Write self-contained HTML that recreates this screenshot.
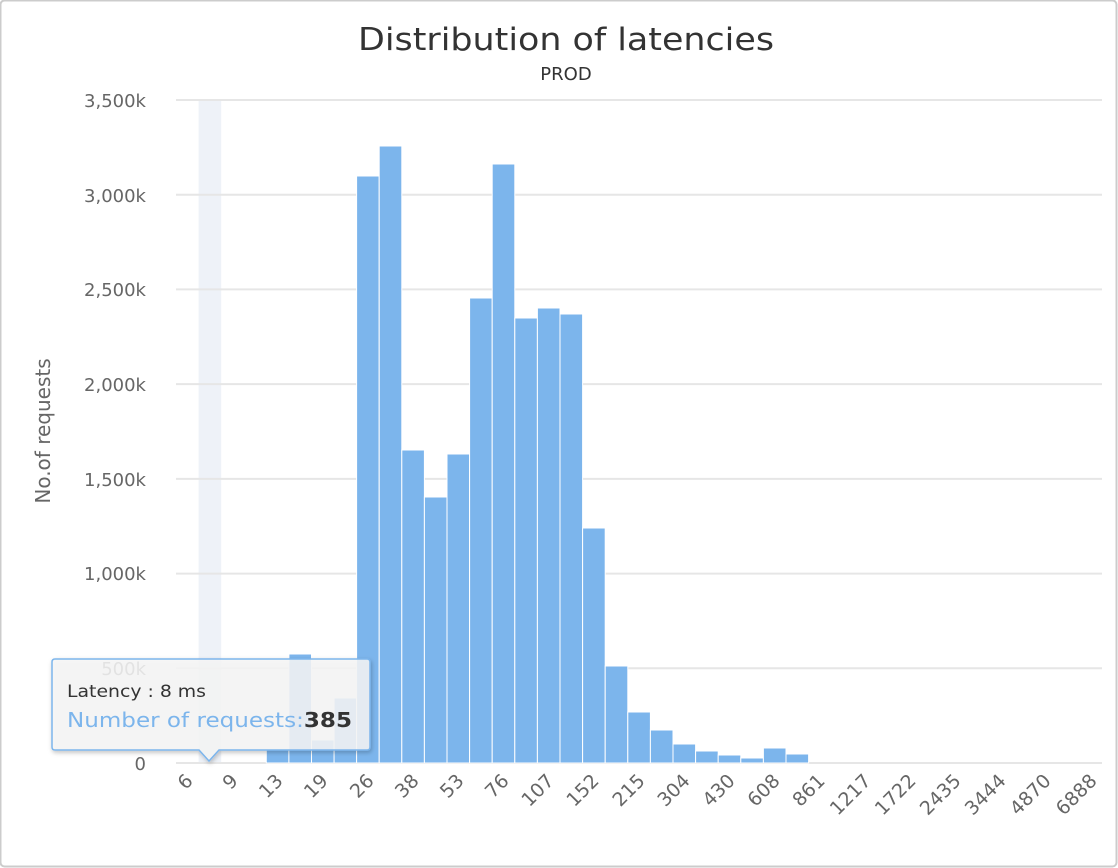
<!DOCTYPE html>
<html><head><meta charset="utf-8"><style>
html,body{margin:0;padding:0;background:#fff;}
svg{display:block;font-family:"DejaVu Sans","Liberation Sans",sans-serif;}
</style></head><body>
<svg width="1118" height="868" viewBox="0 0 1118 868" xmlns="http://www.w3.org/2000/svg">
<defs>
<filter id="sh" x="-10%" y="-10%" width="130%" height="140%"><feDropShadow dx="1" dy="2" stdDeviation="2" flood-color="#000" flood-opacity="0.25"/></filter>
</defs>
<rect x="0.5" y="0.5" width="1116" height="866" rx="4" fill="#fff" stroke="#ccc" stroke-width="2"/>
<text x="566" y="50" text-anchor="middle" font-size="31" fill="#333" textLength="416" lengthAdjust="spacingAndGlyphs">Distribution of latencies</text>
<text x="566" y="80" text-anchor="middle" font-size="18" fill="#333">PROD</text>
<rect x="198.6" y="100" width="22.6" height="663" fill="#eef2f8"/>
<g stroke="#e6e6e6" stroke-width="2">
<line x1="176" x2="1102" y1="100" y2="100"/>
<line x1="176" x2="1102" y1="194.7" y2="194.7"/>
<line x1="176" x2="1102" y1="289.4" y2="289.4"/>
<line x1="176" x2="1102" y1="384.1" y2="384.1"/>
<line x1="176" x2="1102" y1="478.9" y2="478.9"/>
<line x1="176" x2="1102" y1="573.6" y2="573.6"/>
<line x1="176" x2="1102" y1="668.3" y2="668.3"/>
<line x1="176" x2="1102" y1="763" y2="763"/>
</g>
<g font-size="18" fill="#666" text-anchor="end">
<text x="146" y="107">3,500k</text>
<text x="146" y="202">3,000k</text>
<text x="146" y="296">2,500k</text>
<text x="146" y="391">2,000k</text>
<text x="146" y="486">1,500k</text>
<text x="146" y="580">1,000k</text>
<text x="146" y="675">500k</text>
<text x="146" y="770">0</text>
</g>
<text transform="translate(50,431) rotate(-90)" text-anchor="middle" font-size="20" fill="#666">No.of requests</text>
<g fill="#7cb5ec" stroke="#fff" stroke-width="1">
<rect x="266.3" y="750" width="22.6" height="13"/>
<rect x="288.9" y="654" width="22.6" height="109"/>
<rect x="311.5" y="740" width="22.6" height="23"/>
<rect x="334.1" y="698" width="22.6" height="65"/>
<rect x="356.6" y="176" width="22.6" height="587"/>
<rect x="379.2" y="146" width="22.6" height="617"/>
<rect x="401.8" y="450" width="22.6" height="313"/>
<rect x="424.4" y="497" width="22.6" height="266"/>
<rect x="447.0" y="454" width="22.6" height="309"/>
<rect x="469.6" y="298" width="22.6" height="465"/>
<rect x="492.2" y="164" width="22.6" height="599"/>
<rect x="514.8" y="318" width="22.6" height="445"/>
<rect x="537.4" y="308" width="22.6" height="455"/>
<rect x="560.0" y="314" width="22.6" height="449"/>
<rect x="582.6" y="528" width="22.6" height="235"/>
<rect x="605.2" y="666" width="22.6" height="97"/>
<rect x="627.8" y="712" width="22.6" height="51"/>
<rect x="650.4" y="730" width="22.6" height="33"/>
<rect x="673.0" y="744" width="22.6" height="19"/>
<rect x="695.6" y="751" width="22.6" height="12"/>
<rect x="718.2" y="755" width="22.6" height="8"/>
<rect x="740.8" y="758" width="22.6" height="5"/>
<rect x="763.4" y="748" width="22.6" height="15"/>
<rect x="786.0" y="754" width="22.6" height="9"/>
</g>
<g font-size="19" fill="#666" text-anchor="end">
<text transform="translate(194,782) rotate(-45)">6</text>
<text transform="translate(239,782) rotate(-45)">9</text>
<text transform="translate(284,782) rotate(-45)">13</text>
<text transform="translate(329,782) rotate(-45)">19</text>
<text transform="translate(375,782) rotate(-45)">26</text>
<text transform="translate(420,782) rotate(-45)">38</text>
<text transform="translate(465,782) rotate(-45)">53</text>
<text transform="translate(510,782) rotate(-45)">76</text>
<text transform="translate(555,782) rotate(-45)">107</text>
<text transform="translate(600,782) rotate(-45)">152</text>
<text transform="translate(646,782) rotate(-45)">215</text>
<text transform="translate(691,782) rotate(-45)">304</text>
<text transform="translate(736,782) rotate(-45)">430</text>
<text transform="translate(781,782) rotate(-45)">608</text>
<text transform="translate(826,782) rotate(-45)">861</text>
<text transform="translate(872,782) rotate(-45)">1217</text>
<text transform="translate(917,782) rotate(-45)">1722</text>
<text transform="translate(962,782) rotate(-45)">2435</text>
<text transform="translate(1007,782) rotate(-45)">3444</text>
<text transform="translate(1052,782) rotate(-45)">4870</text>
<text transform="translate(1098,782) rotate(-45)">6888</text>
</g>
<path d="M55,659 H367 Q370,659 370,662 V747 Q370,750 367,750 H219 L209,761 L199,750 H55 Q52,750 52,747 V662 Q52,659 55,659 Z" fill="rgba(247,247,247,0.85)" stroke="#7cb5ec" stroke-width="1.5" filter="url(#sh)"/>
<text x="67" y="697" font-size="17" fill="#333" textLength="139" lengthAdjust="spacingAndGlyphs">Latency : 8 ms</text>
<text x="67" y="727" font-size="20" fill="#7cb5ec" textLength="285" lengthAdjust="spacingAndGlyphs">Number of requests:<tspan fill="#333" font-weight="bold">385</tspan></text>
</svg>
</body></html>
